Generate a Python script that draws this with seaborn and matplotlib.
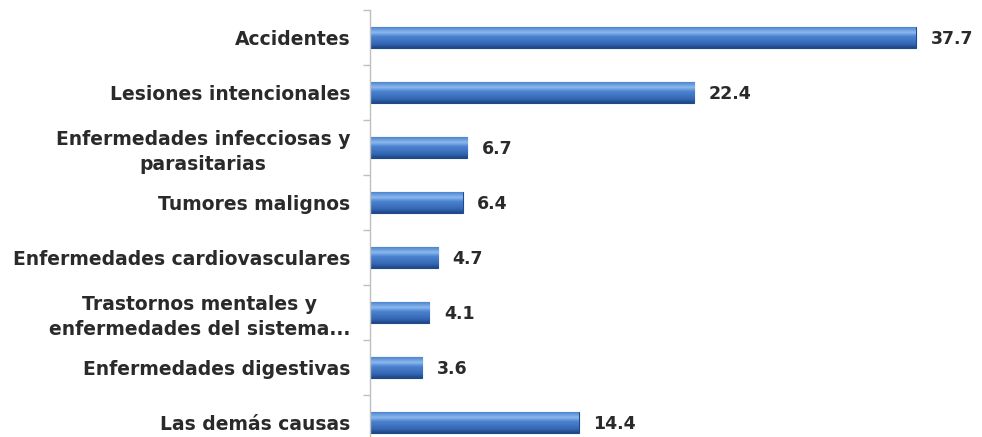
import numpy as np
import pandas as pd
import matplotlib
matplotlib.use("Agg")
import matplotlib.pyplot as plt
import seaborn as sns

# data
causas = ["Accidentes", "Lesiones intencionales",
          "Enfermedades infecciosas y\nparasitarias", "Tumores malignos",
          "Enfermedades cardiovasculares",
          "Trastornos mentales y\nenfermedades del sistema...",
          "Enfermedades digestivas", "Las demás causas"]
valores = [37.7, 22.4, 6.7, 6.4, 4.7, 4.1, 3.6, 14.4]

df = pd.DataFrame({"causa": causas, "valor": valores})

sns.set_style("white")
plt.rcParams['font.family'] = ['DejaVu Sans']

fig = plt.figure(figsize=(9.82, 4.37), dpi=100)
# axes runs a bit past the bottom of the picture, like the original crop
ax = fig.add_axes([370/982, -13/437, 600/982, 440/437])

sns.barplot(data=df, x="valor", y="causa", orient="h", color="#3b78c8",
            width=0.38, ax=ax, saturation=1, edgecolor="#1f4a8a", linewidth=0.8)

# gradient fill clipped to each bar for the 3D look
cmap = matplotlib.colors.LinearSegmentedColormap.from_list(
    "barra", [(0.0, "#4f86d0"), (0.25, "#8cb8ee"), (0.45, "#4a82d0"),
              (0.8, "#3568b4"), (1.0, "#1e4788")])
for p in ax.patches:
    x0, y0 = p.get_x(), p.get_y()
    w, h = p.get_width(), p.get_height()
    im = ax.imshow(np.linspace(0, 1, 50).reshape(-1, 1), cmap=cmap, aspect="auto",
                   extent=[x0, x0 + w, y0 + h, y0], zorder=p.get_zorder() + 0.1)
    im.set_clip_path(p)

for i, v in enumerate(valores):
    ax.text(v + 1.0, i + 0.03, f"{v}", va="center", ha="left",
            fontsize=12.5, fontweight="bold", color="#2a2a2a")

ax.set_xlim(0, 600 / (546 / 37.7))
ax.set_ylim(7.5, -0.5)
ax.set_xlabel("")
ax.set_ylabel("")
ax.set_xticks([])
ax.set_yticks(np.arange(-0.5, 8, 1), minor=True)
ax.tick_params(axis="y", which="minor", length=5, color="#bfbfbf", width=1, left=True)
ax.tick_params(axis="y", which="major", length=0, pad=14)
for lab in ax.get_yticklabels():
    lab.set_fontweight("bold")
    lab.set_fontsize(13.5)
    lab.set_color("#2a2a2a")
    lab.set_multialignment("center")
    lab.set_linespacing(1.35)
for s in ["top", "right", "bottom"]:
    ax.spines[s].set_visible(False)
ax.spines["left"].set_color("#bfbfbf")
ax.spines["left"].set_linewidth(1)

fig.savefig("out.png", dpi=100)
